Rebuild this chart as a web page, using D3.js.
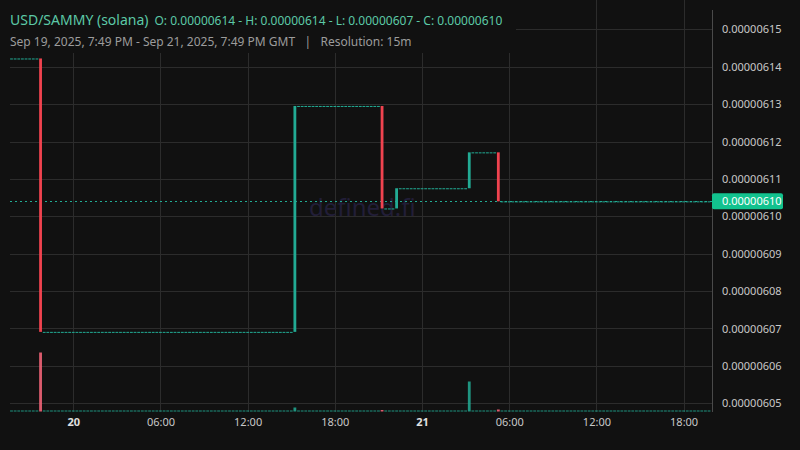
<!DOCTYPE html>
<html><head><meta charset="utf-8">
<script src="https://cdn.jsdelivr.net/npm/d3@7"></script>
<style>
html,body{margin:0;padding:0;background:#111111;}
svg{display:block;font-family:"Noto Sans",sans-serif;}
</style></head>
<body><svg id="c" width="800" height="450"></svg>
<script>
// ---- data ----
const startTime = "2025-09-19T19:45:00Z";   // first 15m candle
const candleCount = 193;                    // 15m candles up to Sep 21 19:45
// price changes: candle index, open, close, volume (relative units)
const moveIndex  = [8, 78, 102, 106, 126, 134];
const moveOpen   = [6.1422e-6, 6.0691e-6, 6.1295e-6, 6.1021e-6, 6.1075e-6, 6.1171e-6];
const moveClose  = [6.0691e-6, 6.1295e-6, 6.1021e-6, 6.1075e-6, 6.1171e-6, 6.1040e-6];
const moveVolume = [590, 40, 15, 0, 300, 20];
const firstPrice = 6.1422e-6;
const lastPrice = 6.1040e-6;
const yTicks = [6.05e-6, 6.06e-6, 6.07e-6, 6.08e-6, 6.09e-6, 6.10e-6, 6.11e-6, 6.12e-6, 6.13e-6, 6.14e-6, 6.15e-6];
const xTickTimes = ["2025-09-20T00:00:00Z","2025-09-20T06:00:00Z","2025-09-20T12:00:00Z","2025-09-20T18:00:00Z",
                    "2025-09-21T00:00:00Z","2025-09-21T06:00:00Z","2025-09-21T12:00:00Z","2025-09-21T18:00:00Z"];
const xTickLabels = ["20","06:00","12:00","18:00","21","06:00","12:00","18:00"];
const titleMain = "USD/SAMMY (solana)";
const titleOHLC = "O: 0.00000614 - H: 0.00000614 - L: 0.00000607 - C: 0.00000610";
const subtitle = "Sep 19, 2025, 7:49 PM - Sep 21, 2025, 7:49 PM GMT   |   Resolution: 15m";

// build candles: price carries over between trades
const t0 = new Date(startTime).getTime();
const STEP = 15*60*1000;
const candles = [];
let price = firstPrice;
for (let i = 0; i < candleCount; i++) {
  const k = moveIndex.indexOf(i);
  if (k >= 0) {
    candles.push({t:new Date(t0+i*STEP), o:moveOpen[k], c:moveClose[k], v:moveVolume[k]});
    price = moveClose[k];
  } else {
    candles.push({t:new Date(t0+i*STEP), o:price, c:price, v:0});
  }
}

// ---- drawing ----
const svg = d3.select("#c");
const W = 800, H = 450;
const plotL = 10, plotR = 712, plotT = 0, plotB = 412;
const UP = "#22ab94", DOWN = "#f0434f";

svg.append("rect").attr("width",W).attr("height",H).attr("fill","#111111");

const x = d3.scaleTime()
  .domain([new Date(t0), new Date(t0+(candleCount-1)*STEP)])
  .range([11.5, 11.5 + (candleCount-1)*3.633]);
const y = d3.scaleLinear().domain([6.05e-6, 6.15e-6]).range([403.3, 29.3]);
const vol = d3.scaleLinear().domain([0, 600]).range([0, 60]);
const volBase = 411.5;

// grid
const grid = svg.append("g");
grid.selectAll("line.h").data(yTicks).join("line")
  .attr("x1",plotL).attr("x2",plotR)
  .attr("y1",d=>Math.round(y(d))+0.5).attr("y2",d=>Math.round(y(d))+0.5)
  .attr("stroke","#2c2c2c").attr("stroke-width",1);
grid.selectAll("line.v").data(xTickTimes).join("line")
  .attr("x1",d=>Math.round(x(new Date(d)))+0.5).attr("x2",d=>Math.round(x(new Date(d)))+0.5)
  .attr("y1",0).attr("y2",plotB)
  .attr("stroke","#2c2c2c").attr("stroke-width",1);

// watermark
svg.append("text").attr("x",309).attr("y",216).text("defined.fi")
  .attr("font-size",24).attr("fill","#221e38").attr("font-family","Noto Sans, sans-serif");

// current price line
svg.append("line").attr("x1",plotL).attr("x2",plotR)
  .attr("y1",Math.round(y(lastPrice))+0.5).attr("y2",Math.round(y(lastPrice))+0.5)
  .attr("stroke",UP).attr("stroke-width",1).attr("stroke-dasharray","2,3");

// volume bars
const bw = 2.8;
svg.append("g").selectAll("rect").data(candles).join("rect")
  .attr("x",d=>x(d.t)-bw/2).attr("width",bw)
  .attr("y",d=>volBase-Math.max(1,vol(d.v)))
  .attr("height",d=>Math.max(1,vol(d.v)))
  .attr("fill",d=>d.c>=d.o ? "rgba(34,171,148,0.85)" : "rgba(242,100,120,0.9)");

// candles
svg.append("g").selectAll("rect").data(candles).join("rect")
  .attr("x",d=>x(d.t)-bw/2).attr("width",bw)
  .attr("y",d=>Math.min(y(d.o),y(d.c)))
  .attr("height",d=>Math.max(1,Math.abs(y(d.o)-y(d.c))))
  .attr("fill",d=>d.c>=d.o ? UP : DOWN);

// right axis
svg.append("line").attr("x1",plotR+0.5).attr("x2",plotR+0.5).attr("y1",10).attr("y2",plotB)
  .attr("stroke","#4a4a4a").attr("stroke-width",1);
const yAxis = d3.axisRight(y).tickValues(yTicks).tickSize(0).tickPadding(0)
  .tickFormat(d=>d.toFixed(8));
const ya = svg.append("g").attr("transform",`translate(722,0)`).call(yAxis);
ya.select(".domain").remove();
ya.selectAll("text").attr("fill","#c8c8c8").attr("font-size",11).attr("font-family","Noto Sans, sans-serif");

// price label box
const py = y(lastPrice);
svg.append("rect").attr("x",712).attr("y",py-8).attr("width",71).attr("height",16).attr("rx",2)
  .attr("fill","#12c28e");
svg.append("text").attr("x",722).attr("y",py+4).text(lastPrice.toFixed(8))
  .attr("fill","#ffffff").attr("font-size",11);

// x axis
const xAxis = d3.axisBottom(x).tickValues(xTickTimes.map(d=>new Date(d))).tickSize(0).tickPadding(0)
  .tickFormat((d,i)=>xTickLabels[i]);
const xa = svg.append("g").attr("transform",`translate(0,418)`).call(xAxis);
xa.select(".domain").remove();
xa.selectAll("text").attr("font-size",11).attr("font-family","Noto Sans, sans-serif")
  .attr("fill",(d,i)=>/^\d+$/.test(xTickLabels[i]) ? "#e0e0e0" : "#c8c8c8")
  .attr("font-weight",(d,i)=>/^\d+$/.test(xTickLabels[i]) ? "bold" : "normal");

// legend background + text
svg.append("rect").attr("x",0).attr("y",0).attr("width",516).attr("height",53).attr("fill","#111111");
const t1 = svg.append("text").attr("x",10).attr("y",25).attr("fill","#5cc9a7");
t1.append("tspan").attr("font-size",14).text(titleMain);
t1.append("tspan").attr("dx",6).attr("font-size",12).text(titleOHLC);
svg.append("text").attr("x",10).attr("y",46).attr("fill","#9c9c9c").attr("font-size",12)
  .attr("xml:space","preserve").style("white-space","pre").text(subtitle);
</script>
</body></html>
